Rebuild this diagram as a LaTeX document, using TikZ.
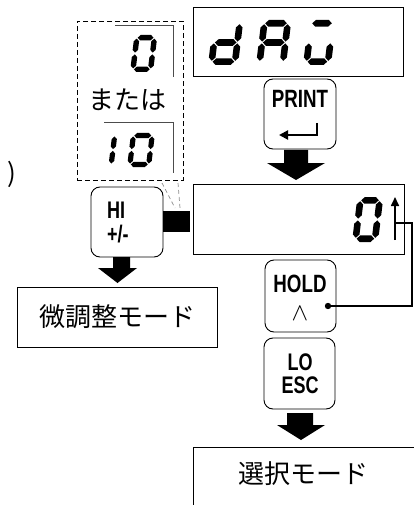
\documentclass[tikz,border=0pt]{standalone}
\usepackage{fontspec}
\setmainfont{Liberation Sans}
\newfontfamily\jpfont{Noto Sans CJK JP}
\newfontfamily\keyfont{Liberation Sans}[FakeStretch=0.75]
\usetikzlibrary{arrows.meta,calc}

% seven-segment helpers
\newcommand\hseg[3]{\fill ({#1},{#3}) -- ({#1+\sT/2},{#3+\sT/2}) -- ({#2-\sT/2},{#3+\sT/2}) -- ({#2},{#3}) -- ({#2-\sT/2},{#3-\sT/2}) -- ({#1+\sT/2},{#3-\sT/2}) -- cycle;}
\newcommand\vseg[3]{\fill ({#1},{#2}) -- ({#1+\sT/2},{#2+\sT/2}) -- ({#1+\sT/2},{#3-\sT/2}) -- ({#1},{#3}) -- ({#1-\sT/2},{#3-\sT/2}) -- ({#1-\sT/2},{#2+\sT/2}) -- cycle;}
\newcommand\sevA{\hseg{\sT/2+\sG}{\sW-\sT/2-\sG}{\sH-\sT/2}}
\newcommand\sevG{\hseg{\sT/2+\sG}{\sW-\sT/2-\sG}{\sH/2}}
\newcommand\sevD{\hseg{\sT/2+\sG}{\sW-\sT/2-\sG}{\sT/2}}
\newcommand\sevF{\vseg{\sT/2}{\sH/2+\sG}{\sH-\sT/2-\sG}}
\newcommand\sevE{\vseg{\sT/2}{\sT/2+\sG}{\sH/2-\sG}}
\newcommand\sevB{\vseg{\sW-\sT/2}{\sH/2+\sG}{\sH-\sT/2-\sG}}
\newcommand\sevC{\vseg{\sW-\sT/2}{\sT/2+\sG}{\sH/2-\sG}}
\def\sG{0.9}
% #1 x, #2 bottom y, #3 W, #4 H, #5 thickness, #6 slant, #7 segments
\newcommand\sevdigit[7]{%
  \begin{scope}[shift={(#1,#2)}, xslant=#6, yscale=-1]
    \def\sW{#3}\def\sH{#4}\def\sT{#5}%
    \foreach \q in {#7}{\csname sev\q\endcsname}
  \end{scope}}

\tikzset{
  keybox/.style={draw, line width=0.9pt, rounded corners=9pt, inner sep=0pt},
  display/.style={draw, line width=0.9pt, inner sep=0pt},
  modebox/.style={draw, line width=0.9pt, inner sep=0pt},
  keytext/.style={font=\keyfont\bfseries\fontsize{25}{21}\selectfont, inner sep=0pt},
  jptext/.style={font=\jpfont\fontsize{26}{26}\selectfont, inner sep=0pt},
  framel/.style={draw=black!70, line width=0.9pt},
  dashbox/.style={draw, line width=0.8pt, dash pattern=on 5pt off 3pt},
  greydash/.style={draw=black!45, line width=0.7pt, dash pattern=on 4pt off 3pt},
  conn/.style={line width=1.6pt},
}

\begin{document}
\begin{tikzpicture}[x=1pt,y=-1pt]
\useasboundingbox (0,0) rectangle (414,505);

% partial bracket at the left edge
\node[jptext] (paren) at (12,174) {)};

% dashed alternative box
\node[dashbox, minimum width=106pt, minimum height=159pt] (alt) at (130,100.5) {};
\coordinate (f1a) at (115,25); \coordinate (f1b) at (173,25); \coordinate (f1c) at (173,77);
\draw[framel] (f1a) -- (f1b) -- (f1c);
\sevdigit{130}{72}{23}{37}{5.4}{0.12}{A,B,C,D,E,F}
\node[jptext] (mataha) at (127,100) {または};
\coordinate (f2a) at (104,122); \coordinate (f2b) at (173,122); \coordinate (f2c) at (173,173);
\draw[framel] (f2a) -- (f2b) -- (f2c);
\sevdigit{90}{167}{23.5}{34}{5.2}{0.12}{B,C}
\sevdigit{127}{167}{24}{34}{5.2}{0.12}{A,B,C,D,E,F}

% grey dashed pointer lines
\coordinate (g1a) at (162,183); \coordinate (g1b) at (175,208);
\coordinate (g2a) at (178,183); \coordinate (g2b) at (180,208);
\draw[greydash] (g1a) -- (g1b);
\draw[greydash] (g2a) -- (g2b);

% display 1
\node[display, minimum width=210pt, minimum height=69pt] (disp1) at (298,41.5) {};
\sevdigit{208}{65}{30}{45}{6.6}{0.12}{B,C,D,E,G}
\sevdigit{256}{65}{30}{45}{6.6}{0.12}{A,B,C,E,F,G}
\sevdigit{303}{65}{28}{45}{6.6}{0.12}{A,C,D,E}

% PRINT key
\node[keybox, minimum width=72pt, minimum height=70pt] (print) at (300,114) {};
\node[keytext, anchor=base] (printlbl) at (300,108) {PRINT};
\coordinate (ent1) at (317,123); \coordinate (ent2) at (317,135); \coordinate (ent3) at (279,135);
\draw[line width=2pt, -{Triangle[length=9pt,width=9pt]}] (ent1) -- (ent2) -- (ent3);

% arrow 1
\fill (284,150) -- (308,150) -- (308,163) -- (325,163) -- (296,180) -- (267,163) -- (284,163) -- cycle;

% display 2
\node[display, minimum width=211pt, minimum height=70pt] (disp2) at (298.5,219) {};
\sevdigit{352}{242}{26}{45}{6.6}{0.12}{A,B,C,D,E,F}
\coordinate (upbase) at (395,240); \coordinate (uptip) at (395,197);
\draw[conn, -{Triangle[length=9pt,width=8pt]}] (upbase) -- (uptip);

% HI key and tab
\node[keybox, minimum width=72pt, minimum height=70pt] (hi) at (127,222) {};
\node[keytext, align=left, anchor=west, font=\keyfont\bfseries\fontsize{24}{24}\selectfont] (hilbl) at (107,222.5) {HI\\+/-};
\node[fill, minimum width=27pt, minimum height=21pt, inner sep=0pt] (tab) at (176.5,221.5) {};

% arrow 2
\fill (113,257) -- (130,257) -- (130,268) -- (137,268) -- (117.5,283) -- (98,268) -- (113,268) -- cycle;

% fine mode box
\node[modebox, jptext, minimum width=200pt, minimum height=60pt, draw, line width=0.9pt] (fine) at (117,317) {微調整モード};

% HOLD key
\node[keybox, minimum width=71pt, minimum height=72pt] (hold) at (300.5,296) {};
\node[keytext, align=center, anchor=north] (holdlbl) at (300,274.5) {HOLD\\[7pt]{\fontsize{32}{32}\selectfont$\wedge$}};
\coordinate (holdpt) at (328,306);
\coordinate (join) at (395,223);
\fill (holdpt) circle (3.2);
\draw[conn] (holdpt) -| (412,223) -- (join);

% LO ESC key
\node[keybox, minimum width=71pt, minimum height=71pt] (lo) at (299.5,373.5) {};
\node[keytext, align=center, font=\keyfont\bfseries\fontsize{24}{23}\selectfont] (lolbl) at (300,374) {LO\\ESC};

% arrow 3
\fill (287,413) -- (313,413) -- (313,425) -- (325,425) -- (301,440) -- (277,425) -- (287,425) -- cycle;

% select mode box (cut by the picture edge)
\node[modebox, minimum width=260pt, minimum height=90pt] (sel) at (323,492) {};
\node[jptext] (seltext) at (303.5,474) {選択モード};
\end{tikzpicture}
\end{document}
